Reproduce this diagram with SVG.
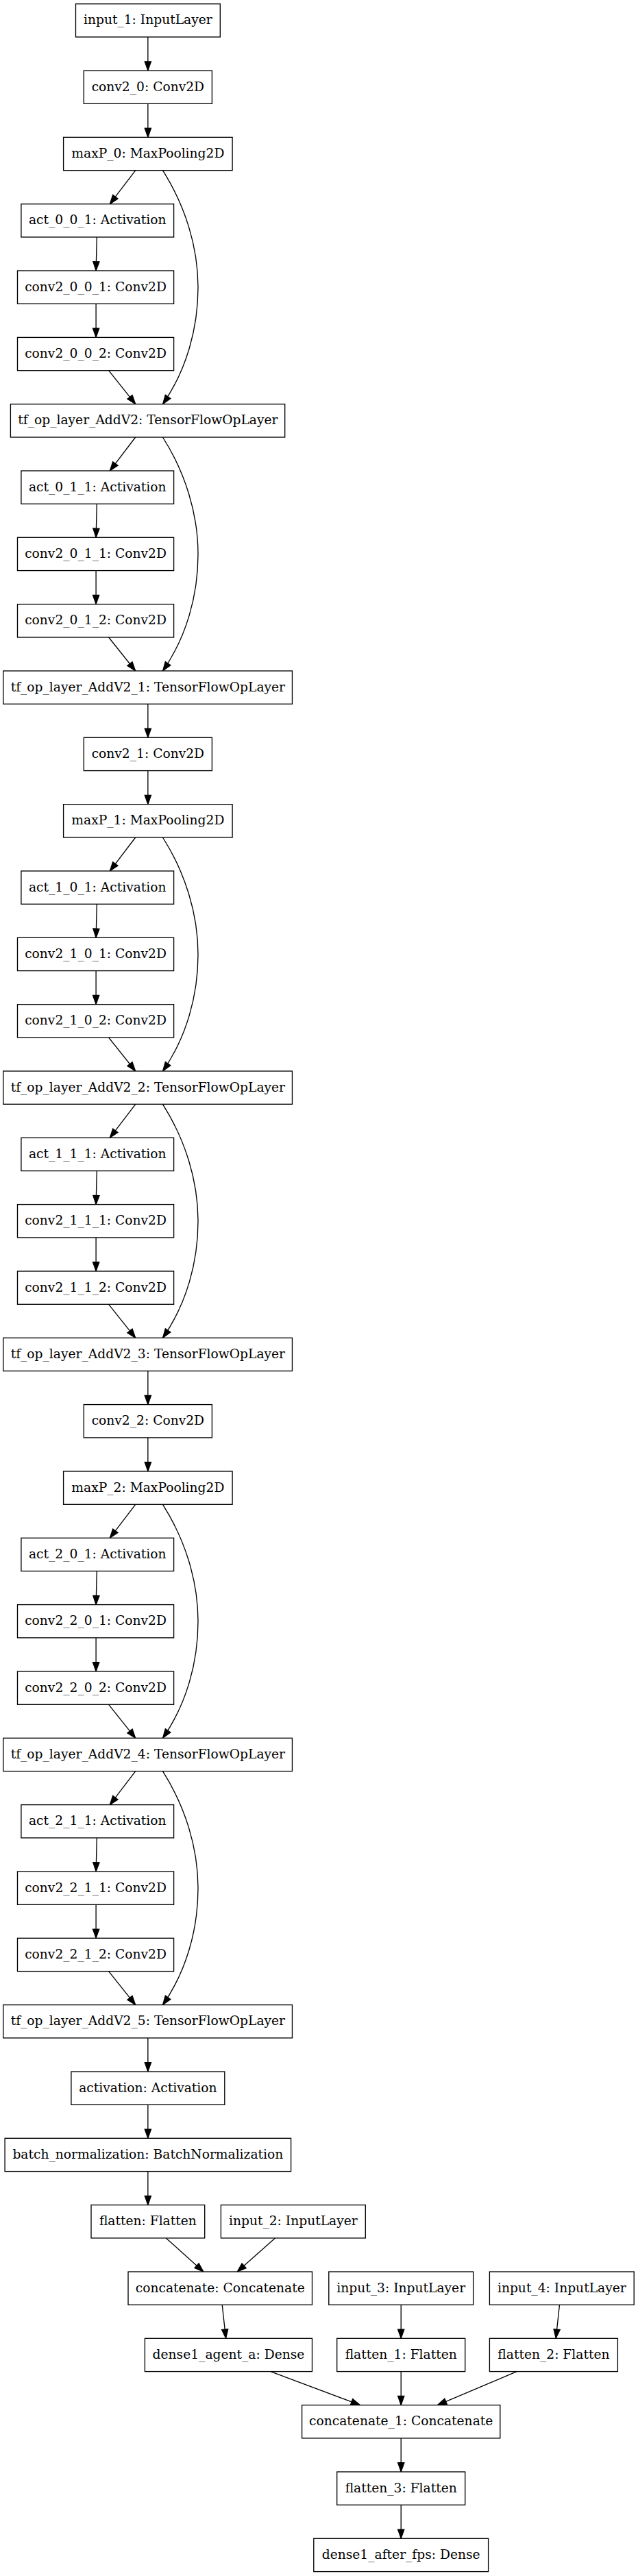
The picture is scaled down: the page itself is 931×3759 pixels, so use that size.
<svg xmlns="http://www.w3.org/2000/svg" width="931" height="3759" viewBox="0 0 931 3759">
<style>
.n rect{fill:#fff;stroke:#000;stroke-width:1.33}
.n text{font-family:"DejaVu Serif",serif;font-size:18.67px;text-anchor:middle;fill:#000}
.e path{fill:none;stroke:#000;stroke-width:1.33;marker-end:url(#ah)}
</style>
<defs>
<marker id="ah" markerUnits="userSpaceOnUse" markerWidth="16" markerHeight="12" refX="13.3" refY="4.67" orient="auto" overflow="visible">
<path d="M0,0 L13.3,4.67 L0,9.33 Z" fill="#000" stroke="#000" stroke-width="1.2"/>
</marker>
</defs>
<rect width="931" height="3759" fill="#fff"/>
<g id="connectors" class="e">
<path d="M215.85,54 L215.85,103.03"/>
<path d="M215.85,151.3 L215.85,200.36"/>
<g transform="translate(0,200.36)">
<path d="M197.7,48.3 L160.3,97.33"/><path d="M141.3,145.6 L140.1,194.7"/><path d="M140.1,243 L140.1,292"/><path d="M158.6,340.3 L197.7,389.33"/><path d="M237.5,48.3 C270,99.7 289,159.3 289,219 C289,279 272,340 237.5,389.33"/>
</g>
<g transform="translate(0,589.7)">
<path d="M197.7,48.3 L160.3,97.33"/><path d="M141.3,145.6 L140.1,194.7"/><path d="M140.1,243 L140.1,292"/><path d="M158.6,340.3 L197.7,389.33"/><path d="M237.5,48.3 C270,99.7 289,159.3 289,219 C289,279 272,340 237.5,389.33"/>
</g>
<path d="M215.85,1027.3 L215.85,1076.3"/>
<path d="M215.85,1124.6 L215.85,1173.7"/>
<g transform="translate(0,1173.7)">
<path d="M197.7,48.3 L160.3,97.33"/><path d="M141.3,145.6 L140.1,194.7"/><path d="M140.1,243 L140.1,292"/><path d="M158.6,340.3 L197.7,389.33"/><path d="M237.5,48.3 C270,99.7 289,159.3 289,219 C289,279 272,340 237.5,389.33"/>
</g>
<g transform="translate(0,1563)">
<path d="M197.7,48.3 L160.3,97.33"/><path d="M141.3,145.6 L140.1,194.7"/><path d="M140.1,243 L140.1,292"/><path d="M158.6,340.3 L197.7,389.33"/><path d="M237.5,48.3 C270,99.7 289,159.3 289,219 C289,279 272,340 237.5,389.33"/>
</g>
<path d="M215.85,2000.6 L215.85,2049.6"/>
<path d="M215.85,2097.9 L215.85,2147"/>
<g transform="translate(0,2147)">
<path d="M197.7,48.3 L160.3,97.33"/><path d="M141.3,145.6 L140.1,194.7"/><path d="M140.1,243 L140.1,292"/><path d="M158.6,340.3 L197.7,389.33"/><path d="M237.5,48.3 C270,99.7 289,159.3 289,219 C289,279 272,340 237.5,389.33"/>
</g>
<g transform="translate(0,2536.3)">
<path d="M197.7,48.3 L160.3,97.33"/><path d="M141.3,145.6 L140.1,194.7"/><path d="M140.1,243 L140.1,292"/><path d="M158.6,340.3 L197.7,389.33"/><path d="M237.5,48.3 C270,99.7 289,159.3 289,219 C289,279 272,340 237.5,389.33"/>
</g>
<path d="M215.85,2973.9 L215.85,3023"/>
<path d="M215.85,3071.3 L215.85,3120.3"/>
<path d="M215.85,3168.6 L215.85,3217.6"/>
<path d="M242.3,3265.9 L296.9,3315"/>
<path d="M401.4,3265.9 L346.2,3315"/>
<path d="M324.2,3363.3 L329.6,3412.3"/>
<path d="M585.2,3363.3 L585.2,3412.3"/>
<path d="M816.5,3363.3 L811.2,3412.3"/>
<path d="M394.9,3460.6 L525.5,3509.6"/>
<path d="M585.2,3460.6 L585.2,3509.6"/>
<path d="M754.2,3460.6 L638.4,3509.6"/>
<path d="M585.2,3557.9 L585.2,3607"/>
<path d="M585.2,3655.3 L585.2,3704.3"/>
</g>
<g id="nodes" class="n">
<g id="input_1" transform="translate(0,5.7)"><rect x="110.5" y="0" width="210.8" height="48.3"/><text x="215.85" y="29.5">input_1: InputLayer</text></g>
<g id="conv2_0" transform="translate(0,103.03)"><rect x="122.3" y="0" width="187.1" height="48.3"/><text x="215.85" y="29.5">conv2_0: Conv2D</text></g>
<g id="maxP_0" transform="translate(0,200.36)"><rect x="92.6" y="0" width="246.5" height="48.3"/><text x="215.85" y="29.5">maxP_0: MaxPooling2D</text></g>
<g id="act_0_0_1" transform="translate(0,297.7)"><rect x="30.9" y="0" width="222.7" height="48.3"/><text x="142.25" y="29.5">act_0_0_1: Activation</text></g>
<g id="conv2_0_0_1" transform="translate(0,395)"><rect x="25.5" y="0" width="228.1" height="48.3"/><text x="139.55" y="29.5">conv2_0_0_1: Conv2D</text></g>
<g id="conv2_0_0_2" transform="translate(0,492.4)"><rect x="25.5" y="0" width="228.1" height="48.3"/><text x="139.55" y="29.5">conv2_0_0_2: Conv2D</text></g>
<g id="tf_op_layer_AddV2" transform="translate(0,589.7)"><rect x="15.4" y="0" width="400.3" height="48.3"/><text x="215.85" y="29.5">tf_op_layer_AddV2: TensorFlowOpLayer</text></g>
<g id="act_0_1_1" transform="translate(0,687)"><rect x="30.9" y="0" width="222.7" height="48.3"/><text x="142.25" y="29.5">act_0_1_1: Activation</text></g>
<g id="conv2_0_1_1" transform="translate(0,784.3)"><rect x="25.5" y="0" width="228.1" height="48.3"/><text x="139.55" y="29.5">conv2_0_1_1: Conv2D</text></g>
<g id="conv2_0_1_2" transform="translate(0,881.7)"><rect x="25.5" y="0" width="228.1" height="48.3"/><text x="139.55" y="29.5">conv2_0_1_2: Conv2D</text></g>
<g id="tf_op_layer_AddV2_1" transform="translate(0,979)"><rect x="4.75" y="0" width="421.7" height="48.3"/><text x="215.85" y="29.5">tf_op_layer_AddV2_1: TensorFlowOpLayer</text></g>
<g id="conv2_1" transform="translate(0,1076.3)"><rect x="122.3" y="0" width="187.1" height="48.3"/><text x="215.85" y="29.5">conv2_1: Conv2D</text></g>
<g id="maxP_1" transform="translate(0,1173.7)"><rect x="92.6" y="0" width="246.5" height="48.3"/><text x="215.85" y="29.5">maxP_1: MaxPooling2D</text></g>
<g id="act_1_0_1" transform="translate(0,1271)"><rect x="30.9" y="0" width="222.7" height="48.3"/><text x="142.25" y="29.5">act_1_0_1: Activation</text></g>
<g id="conv2_1_0_1" transform="translate(0,1368.3)"><rect x="25.5" y="0" width="228.1" height="48.3"/><text x="139.55" y="29.5">conv2_1_0_1: Conv2D</text></g>
<g id="conv2_1_0_2" transform="translate(0,1465.7)"><rect x="25.5" y="0" width="228.1" height="48.3"/><text x="139.55" y="29.5">conv2_1_0_2: Conv2D</text></g>
<g id="tf_op_layer_AddV2_2" transform="translate(0,1563)"><rect x="4.75" y="0" width="421.7" height="48.3"/><text x="215.85" y="29.5">tf_op_layer_AddV2_2: TensorFlowOpLayer</text></g>
<g id="act_1_1_1" transform="translate(0,1660.3)"><rect x="30.9" y="0" width="222.7" height="48.3"/><text x="142.25" y="29.5">act_1_1_1: Activation</text></g>
<g id="conv2_1_1_1" transform="translate(0,1757.6)"><rect x="25.5" y="0" width="228.1" height="48.3"/><text x="139.55" y="29.5">conv2_1_1_1: Conv2D</text></g>
<g id="conv2_1_1_2" transform="translate(0,1855)"><rect x="25.5" y="0" width="228.1" height="48.3"/><text x="139.55" y="29.5">conv2_1_1_2: Conv2D</text></g>
<g id="tf_op_layer_AddV2_3" transform="translate(0,1952.3)"><rect x="4.75" y="0" width="421.7" height="48.3"/><text x="215.85" y="29.5">tf_op_layer_AddV2_3: TensorFlowOpLayer</text></g>
<g id="conv2_2" transform="translate(0,2049.6)"><rect x="122.3" y="0" width="187.1" height="48.3"/><text x="215.85" y="29.5">conv2_2: Conv2D</text></g>
<g id="maxP_2" transform="translate(0,2147)"><rect x="92.6" y="0" width="246.5" height="48.3"/><text x="215.85" y="29.5">maxP_2: MaxPooling2D</text></g>
<g id="act_2_0_1" transform="translate(0,2244.3)"><rect x="30.9" y="0" width="222.7" height="48.3"/><text x="142.25" y="29.5">act_2_0_1: Activation</text></g>
<g id="conv2_2_0_1" transform="translate(0,2341.6)"><rect x="25.5" y="0" width="228.1" height="48.3"/><text x="139.55" y="29.5">conv2_2_0_1: Conv2D</text></g>
<g id="conv2_2_0_2" transform="translate(0,2439)"><rect x="25.5" y="0" width="228.1" height="48.3"/><text x="139.55" y="29.5">conv2_2_0_2: Conv2D</text></g>
<g id="tf_op_layer_AddV2_4" transform="translate(0,2536.3)"><rect x="4.75" y="0" width="421.7" height="48.3"/><text x="215.85" y="29.5">tf_op_layer_AddV2_4: TensorFlowOpLayer</text></g>
<g id="act_2_1_1" transform="translate(0,2633.6)"><rect x="30.9" y="0" width="222.7" height="48.3"/><text x="142.25" y="29.5">act_2_1_1: Activation</text></g>
<g id="conv2_2_1_1" transform="translate(0,2731)"><rect x="25.5" y="0" width="228.1" height="48.3"/><text x="139.55" y="29.5">conv2_2_1_1: Conv2D</text></g>
<g id="conv2_2_1_2" transform="translate(0,2828.3)"><rect x="25.5" y="0" width="228.1" height="48.3"/><text x="139.55" y="29.5">conv2_2_1_2: Conv2D</text></g>
<g id="tf_op_layer_AddV2_5" transform="translate(0,2925.6)"><rect x="4.75" y="0" width="421.7" height="48.3"/><text x="215.85" y="29.5">tf_op_layer_AddV2_5: TensorFlowOpLayer</text></g>
<g id="activation" transform="translate(0,3023)"><rect x="103.9" y="0" width="223.9" height="48.3"/><text x="215.85" y="29.5">activation: Activation</text></g>
<g id="batch_normalization" transform="translate(0,3120.3)"><rect x="7.1" y="0" width="417.5" height="48.3"/><text x="215.85" y="29.5">batch_normalization: BatchNormalization</text></g>
<g id="flatten" transform="translate(0,3217.6)"><rect x="133" y="0" width="165.7" height="48.3"/><text x="215.85" y="29.5">flatten: Flatten</text></g>
<g id="input_2" transform="translate(0,3217.6)"><rect x="322.4" y="0" width="210.9" height="48.3"/><text x="427.85" y="29.5">input_2: InputLayer</text></g>
<g id="concatenate" transform="translate(0,3315)"><rect x="187" y="0" width="268.5" height="48.3"/><text x="321.25" y="29.5">concatenate: Concatenate</text></g>
<g id="input_3" transform="translate(0,3315)"><rect x="479.8" y="0" width="210.8" height="48.3"/><text x="585.2" y="29.5">input_3: InputLayer</text></g>
<g id="input_4" transform="translate(0,3315)"><rect x="714.4" y="0" width="210.8" height="48.3"/><text x="819.8" y="29.5">input_4: InputLayer</text></g>
<g id="dense1_agent_a" transform="translate(0,3412.3)"><rect x="211.4" y="0" width="244.1" height="48.3"/><text x="333.45" y="29.5">dense1_agent_a: Dense</text></g>
<g id="flatten_1" transform="translate(0,3412.3)"><rect x="491.7" y="0" width="187" height="48.3"/><text x="585.2" y="29.5">flatten_1: Flatten</text></g>
<g id="flatten_2" transform="translate(0,3412.3)"><rect x="714.4" y="0" width="187" height="48.3"/><text x="807.9" y="29.5">flatten_2: Flatten</text></g>
<g id="concatenate_1" transform="translate(0,3509.6)"><rect x="440.6" y="0" width="289.2" height="48.3"/><text x="585.2" y="29.5">concatenate_1: Concatenate</text></g>
<g id="flatten_3" transform="translate(0,3607)"><rect x="491.7" y="0" width="187" height="48.3"/><text x="585.2" y="29.5">flatten_3: Flatten</text></g>
<g id="dense1_after_fps" transform="translate(0,3704.3)"><rect x="457.8" y="0" width="254.8" height="48.3"/><text x="585.2" y="29.5">dense1_after_fps: Dense</text></g>
</g>
</svg>
